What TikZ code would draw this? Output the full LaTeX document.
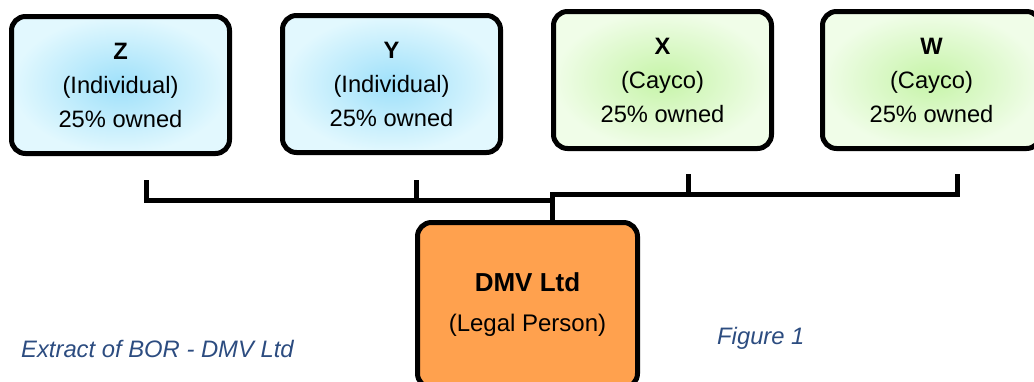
\documentclass[tikz,border=0pt]{standalone}
\usepackage{fontspec}
\setmainfont{Liberation Sans}
\definecolor{blueIn}{RGB}{158,224,250}
\definecolor{blueOut}{RGB}{226,248,254}
\definecolor{greenIn}{RGB}{198,244,168}
\definecolor{greenOut}{RGB}{240,253,232}
\definecolor{dmvOrange}{RGB}{255,161,78}
\definecolor{capBlue}{RGB}{44,76,128}
\begin{document}
\begin{tikzpicture}[x=1pt,y=-1pt,
  party/.style={draw=black, line width=5pt, rounded corners=14pt,
    minimum width=218pt, minimum height=137pt, inner sep=0pt,
    align=center, font=\fontsize{23.7}{34}\selectfont},
  person/.style={party, inner color=blueIn, outer color=blueOut},
  cayco/.style={party, inner color=greenIn, outer color=greenOut},
  entity/.style={draw=black, fill=dmvOrange, line width=5pt, rounded corners=14pt,
    minimum width=220pt, minimum height=165pt, inner sep=0pt,
    align=center, font=\fontsize{24}{40}\selectfont},
  conn/.style={line width=5pt, line join=miter},
  caption/.style={font=\fontsize{23.8}{28}\selectfont\itshape, text=capBlue, inner sep=0pt}]
\useasboundingbox (0,0) rectangle (1034,381);
\clip (0,0) rectangle (1034,381);

% shareholders
\node[person] (z) at (120.5,85) {\textbf{Z}\\(Individual)\\25\% owned};
\node[person] (y) at (391.5,84) {\textbf{Y}\\(Individual)\\25\% owned};
\node[cayco]  (x) at (662.5,80) {\textbf{X}\\(Cayco)\\25\% owned};
\node[cayco]  (w) at (931.5,80) {\textbf{W}\\(Cayco)\\25\% owned};

% the company
\node[entity] (dmv) at (527.5,305) {{\fontsize{26}{40}\selectfont\bfseries DMV Ltd}\\(Legal Person)};

% bracket tick tops and junctions
\coordinate (zt) at (146,180);
\coordinate (yt) at (416,180);
\coordinate (xt) at (688,174);
\coordinate (wt) at (957,174);
\coordinate (lowhub) at (552,200);
\coordinate (hub) at (552,194);

% ownership brackets
\draw[conn] (zt) |- (lowhub);
\draw[conn] (yt) -- (yt |- lowhub);
\draw[conn] (wt) |- (hub) -- (hub |- dmv.north);
\draw[conn] (xt) -- (xt |- hub);

% captions
\node[caption, anchor=base west] (extract) at (21,357) {Extract of BOR - DMV Ltd};
\node[caption, anchor=base west] (fig) at (717,344) {Figure 1};
\end{tikzpicture}
\end{document}
